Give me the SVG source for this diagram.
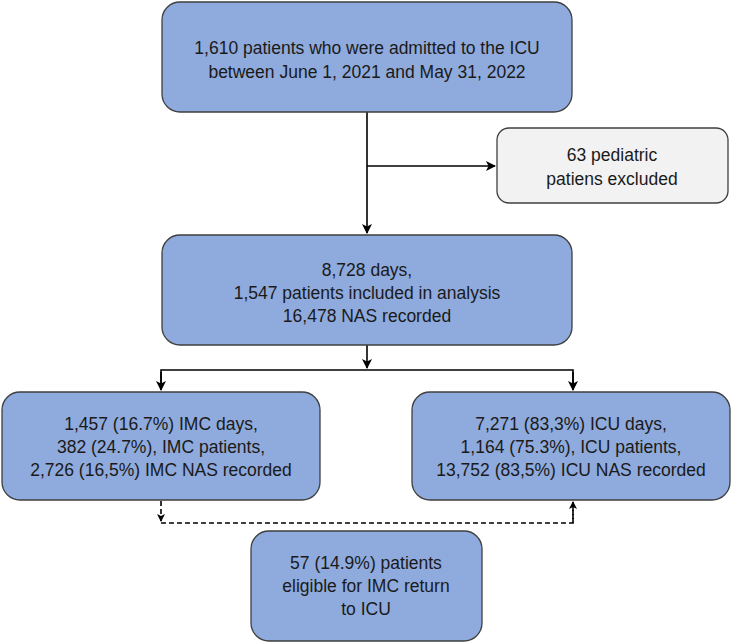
<svg xmlns="http://www.w3.org/2000/svg" width="732" height="644" viewBox="0 0 732 644">
<style>
.b{fill:#8faadc;stroke:#3f3f3f;stroke-width:1.3}
.g{fill:#f2f2f2;stroke:#3f3f3f;stroke-width:1.3}
text{font-family:"Liberation Sans",Arial,sans-serif;font-size:17.5px;fill:#1a1a1a;text-anchor:middle}
.c{fill:none;stroke:#000;stroke-width:1.6}
.d{fill:none;stroke:#000;stroke-width:1.6;stroke-dasharray:5,3}
</style>
<defs>
<marker id="a" markerWidth="10" markerHeight="10" refX="9" refY="5" orient="auto" markerUnits="userSpaceOnUse">
<path d="M0,0 L10,5 L0,10 L2.5,5 Z" fill="#000"/>
</marker>
<marker id="s" markerWidth="8" markerHeight="8" refX="7" refY="4" orient="auto" markerUnits="userSpaceOnUse">
<path d="M0,0 L8,4 L0,8 L2,4 Z" fill="#000"/>
</marker>
</defs>
<g id="connectors">
<line class="c" x1="367" y1="112" x2="367" y2="233" marker-end="url(#a)"/>
<line class="c" x1="367" y1="166" x2="495" y2="166" marker-end="url(#a)"/>
<line class="c" x1="367" y1="345" x2="367" y2="368" marker-end="url(#a)"/>
<polyline class="c" points="161,390 161,370 573,370 573,390"/>
<line class="c" x1="161" y1="372" x2="161" y2="390" marker-end="url(#a)"/>
<line class="c" x1="573" y1="372" x2="573" y2="390" marker-end="url(#a)"/>
<line class="d" x1="161" y1="501" x2="161" y2="521" marker-end="url(#s)"/>
<polyline class="d" points="161,523 573,523 573,503"/>
<line class="d" x1="573" y1="523" x2="573" y2="502" marker-end="url(#s)"/>
</g>
<g id="n1">
<rect class="b" x="162" y="2" width="410" height="110" rx="18"/>
<text x="367" y="54">1,610 patients who were admitted to the ICU</text>
<text x="367" y="78">between June 1, 2021 and May 31, 2022</text>
</g>
<g id="n2">
<rect class="g" x="497" y="128" width="231" height="75" rx="12"/>
<text x="612" y="161">63 pediatric</text>
<text x="612" y="185">patiens excluded</text>
</g>
<g id="n3">
<rect class="b" x="162" y="235" width="410" height="110" rx="18"/>
<text x="367" y="276">8,728 days,</text>
<text x="367" y="299">1,547 patients included in analysis</text>
<text x="367" y="322">16,478 NAS recorded</text>
</g>
<g id="n4">
<rect class="b" x="2" y="392" width="318" height="108" rx="18"/>
<text x="161" y="430">1,457 (16.7%) IMC days,</text>
<text x="161" y="453">382 (24.7%), IMC patients,</text>
<text x="161" y="476">2,726 (16,5%) IMC NAS recorded</text>
</g>
<g id="n5">
<rect class="b" x="412" y="392" width="318" height="108" rx="18"/>
<text x="571" y="430">7,271 (83,3%) ICU days,</text>
<text x="571" y="453">1,164 (75.3%), ICU patients,</text>
<text x="571" y="476">13,752 (83,5%) ICU NAS recorded</text>
</g>
<g id="n6">
<rect class="b" x="251" y="531" width="231" height="110" rx="18"/>
<text x="366" y="569">57 (14.9%) patients</text>
<text x="366" y="592">eligible for IMC return</text>
<text x="366" y="615">to ICU</text>
</g>
</svg>
